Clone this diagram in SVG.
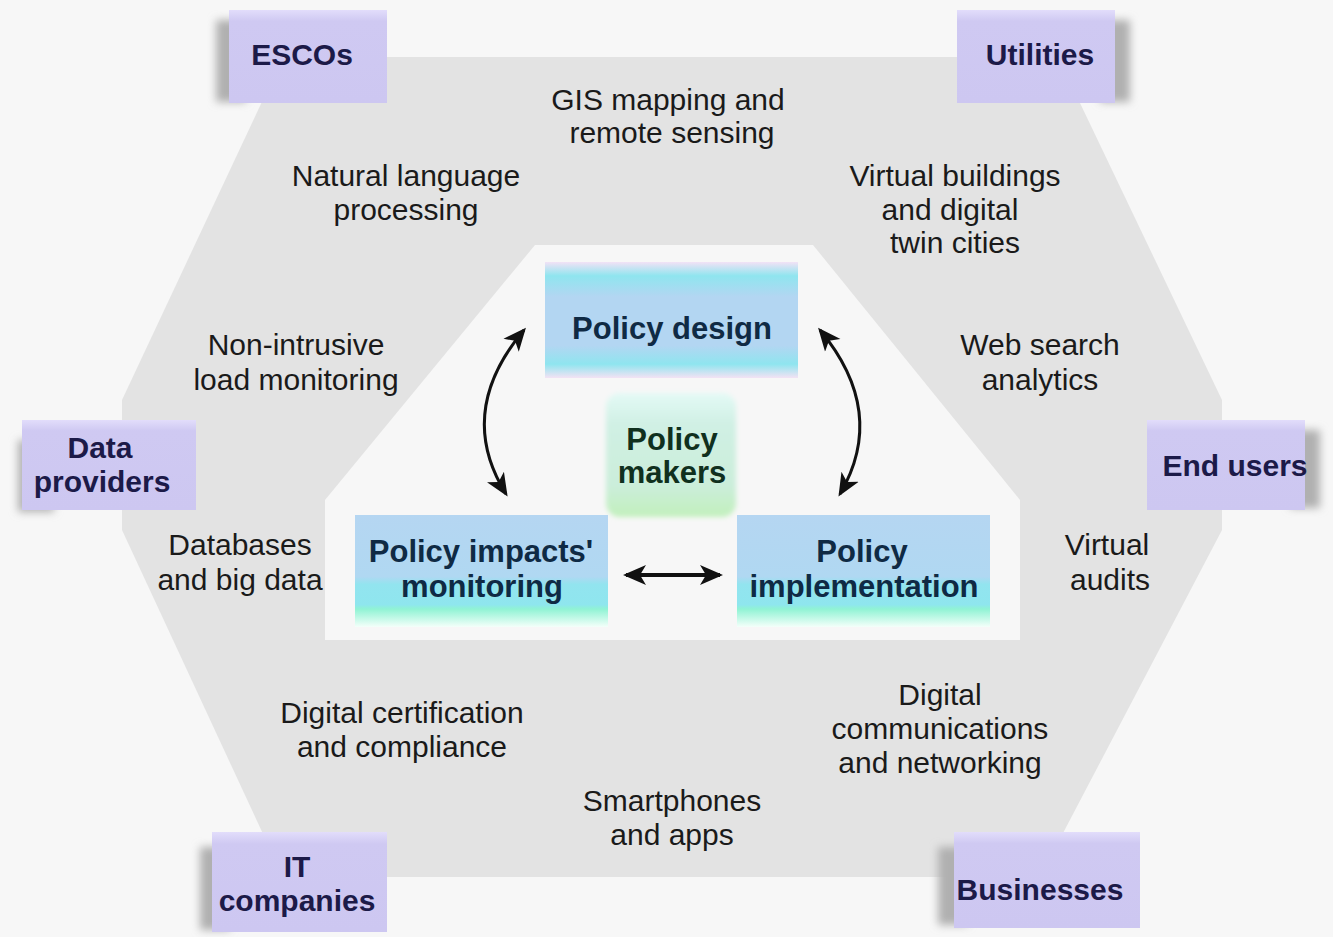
<svg xmlns="http://www.w3.org/2000/svg" width="1333" height="937" viewBox="0 0 1333 937">
<defs>
<style>
.lbl{font-family:"Liberation Sans",Arial,sans-serif;font-size:30px;fill:#1a1a1a;text-anchor:middle;}
.nt{font-family:"Liberation Sans",Arial,sans-serif;font-size:30px;font-weight:bold;fill:#1c1a48;text-anchor:middle;}
.ct{font-family:"Liberation Sans",Arial,sans-serif;font-size:31px;font-weight:bold;fill:#0f2a44;text-anchor:middle;}
.pbox{fill:url(#purp);}
.shadow{fill:#b0b0b0;filter:url(#blur);}
.arr{fill:none;stroke:#111;stroke-width:3;marker-start:url(#ah);marker-end:url(#ah);}
</style>
<linearGradient id="purp" x1="0" y1="0" x2="0" y2="1">
<stop offset="0" stop-color="#e2ddfb"/>
<stop offset="0.12" stop-color="#cfc9f2"/>
<stop offset="1" stop-color="#cdc7f1"/>
</linearGradient>
<linearGradient id="pd" x1="0" y1="0" x2="0" y2="1">
<stop offset="0" stop-color="#f2e2f6"/>
<stop offset="0.12" stop-color="#8fe5ef"/>
<stop offset="0.3" stop-color="#b3d6f2"/>
<stop offset="0.72" stop-color="#b3d6f2"/>
<stop offset="0.88" stop-color="#8fe5ef"/>
<stop offset="1" stop-color="#f3e2f4"/>
</linearGradient>
<linearGradient id="pb" x1="0" y1="0" x2="0" y2="1">
<stop offset="0" stop-color="#b5d6f2"/>
<stop offset="0.55" stop-color="#b0d8f2"/>
<stop offset="0.62" stop-color="#92e4ef"/>
<stop offset="0.8" stop-color="#8fe6ee"/>
<stop offset="0.84" stop-color="#90f3d4"/>
<stop offset="1" stop-color="#f4fffa"/>
</linearGradient>
<linearGradient id="pm" x1="0" y1="0" x2="0" y2="1">
<stop offset="0" stop-color="#e4faf6"/>
<stop offset="0.25" stop-color="#d0f0e4"/>
<stop offset="0.75" stop-color="#cbeeda"/>
<stop offset="1" stop-color="#c2f0bc"/>
</linearGradient>
<filter id="blur" x="-30%" y="-30%" width="160%" height="160%"><feGaussianBlur stdDeviation="4"/></filter>
<filter id="soft" x="-20%" y="-20%" width="140%" height="140%"><feGaussianBlur stdDeviation="2.5"/></filter>
<marker id="ah" markerUnits="userSpaceOnUse" markerWidth="26" markerHeight="22" refX="20" refY="10" orient="auto-start-reverse" viewBox="0 0 26 20">
<path d="M0,0 L23,10 L0,20 L6,10 z" fill="#111"/>
</marker>
</defs>

<rect x="0" y="0" width="1333" height="937" fill="#f7f7f7"/>
<g id="background">
<polygon points="283,57 1058,57 1222,400 1222,530 1040,877 283,877 122,530 122,400" fill="#e3e3e3"/>
<polygon points="535,245 813,245 1020,500 1020,640 325,640 325,500" fill="#f7f7f7"/>
</g>

<g id="labels">
<text class="lbl" x="668" y="110">GIS mapping and</text>
<text class="lbl" x="672" y="143">remote sensing</text>
<text class="lbl" x="406" y="186">Natural language</text>
<text class="lbl" x="406" y="220">processing</text>
<text class="lbl" x="955" y="186">Virtual buildings</text>
<text class="lbl" x="950" y="220">and digital</text>
<text class="lbl" x="955" y="253">twin cities</text>
<text class="lbl" x="296" y="355">Non-intrusive</text>
<text class="lbl" x="296" y="390">load monitoring</text>
<text class="lbl" x="1040" y="355">Web search</text>
<text class="lbl" x="1040" y="390">analytics</text>
<text class="lbl" x="240" y="555">Databases</text>
<text class="lbl" x="240" y="590">and big data</text>
<text class="lbl" x="1107" y="555">Virtual</text>
<text class="lbl" x="1110" y="590">audits</text>
<text class="lbl" x="402" y="723">Digital certification</text>
<text class="lbl" x="402" y="757">and compliance</text>
<text class="lbl" x="940" y="705">Digital</text>
<text class="lbl" x="940" y="739">communications</text>
<text class="lbl" x="940" y="773">and networking</text>
<text class="lbl" x="672" y="811">Smartphones</text>
<text class="lbl" x="672" y="845">and apps</text>
</g>

<g id="node-escos">
<rect class="shadow" x="216" y="20" width="30" height="82"/>
<rect class="pbox" x="229" y="10" width="158" height="93"/>
<text class="nt" x="302" y="65">ESCOs</text>
</g>
<g id="node-utilities">
<rect class="shadow" x="1100" y="20" width="30" height="82"/>
<rect class="pbox" x="957" y="10" width="158" height="93"/>
<text class="nt" x="1040" y="65">Utilities</text>
</g>
<g id="node-data-providers">
<rect class="shadow" x="18" y="440" width="36" height="72"/>
<rect class="pbox" x="22" y="420" width="174" height="90"/>
<text class="nt" x="100" y="458">Data</text>
<text class="nt" x="102" y="492">providers</text>
</g>
<g id="node-end-users">
<rect class="shadow" x="1290" y="430" width="30" height="78"/>
<rect class="pbox" x="1147" y="420" width="158" height="90"/>
<text class="nt" x="1235" y="476">End users</text>
</g>
<g id="node-it-companies">
<rect class="shadow" x="200" y="847" width="30" height="83"/>
<rect class="pbox" x="212" y="832" width="175" height="100"/>
<text class="nt" x="297" y="877">IT</text>
<text class="nt" x="297" y="911">companies</text>
</g>
<g id="node-businesses">
<rect class="shadow" x="938" y="847" width="30" height="78"/>
<rect class="pbox" x="954" y="832" width="186" height="96"/>
<text class="nt" x="1040" y="900">Businesses</text>
</g>

<g id="node-policy-design">
<rect x="545" y="262" width="253" height="116" fill="url(#pd)"/>
<text class="ct" x="672" y="339">Policy design</text>
</g>
<g id="node-policy-makers">
<rect x="606" y="393" width="130" height="124" rx="14" fill="url(#pm)" filter="url(#soft)"/>
<text class="ct" x="672" y="450" style="fill:#10301e">Policy</text>
<text class="ct" x="672" y="483" style="fill:#10301e">makers</text>
</g>
<g id="node-policy-impacts">
<rect x="355" y="515" width="253" height="112" fill="url(#pb)"/>
<text class="ct" x="481" y="562">Policy impacts'</text>
<text class="ct" x="482" y="597">monitoring</text>
</g>
<g id="node-policy-implementation">
<rect x="737" y="515" width="253" height="112" fill="url(#pb)"/>
<text class="ct" x="862" y="562">Policy</text>
<text class="ct" x="864" y="597">implementation</text>
</g>

<g id="connectors">
<path class="arr" d="M 524,330 Q 455,412 506,494"/>
<path class="arr" d="M 820,330 Q 888,412 840,494"/>
<path class="arr" style="stroke-width:4" d="M 626,575 L 720,575"/>
</g>
</svg>
